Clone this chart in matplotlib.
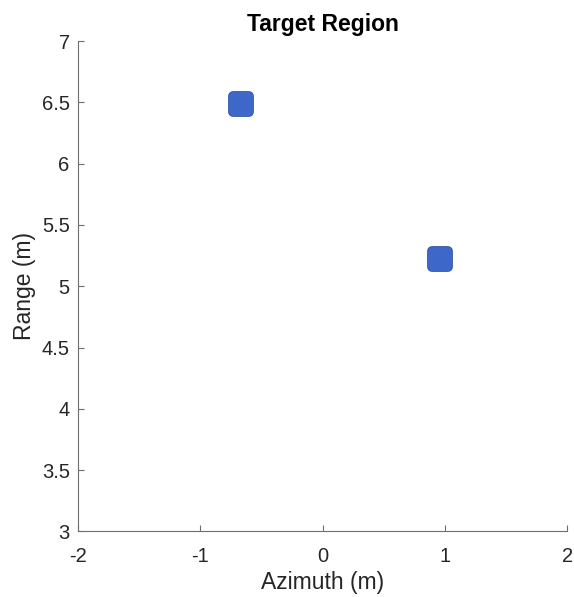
import matplotlib.pyplot as plt
from matplotlib.markers import MarkerStyle

# Target positions
azimuth = [-0.67, 0.96]
range_m = [6.49, 5.22]

xticks = [-2, -1, 0, 1, 2]
yticks = [3, 3.5, 4, 4.5, 5, 5.5, 6, 6.5, 7]
ytick_labels = ["3", "3.5", "4", "4.5", "5", "5.5", "6", "6.5", "7"]

plt.rcParams["font.family"] = ["Liberation Sans", "DejaVu Sans"]
plt.rcParams["axes.unicode_minus"] = False

fig = plt.figure(figsize=(5.74, 5.97), dpi=100)
ax = fig.add_axes([0.136, 0.11, 0.852, 0.821])

sq = MarkerStyle("s", joinstyle="round")
# dark outline, then fill on top (thick round-joined edges give rounded corners)
ax.plot(azimuth, range_m, linestyle="none", marker=sq, markersize=12,
        markerfacecolor="#2c4f9e", markeredgecolor="#2c4f9e", markeredgewidth=7)
ax.plot(azimuth, range_m, linestyle="none", marker=sq, markersize=11.5,
        markerfacecolor="#3d68c9", markeredgecolor="#3d68c9", markeredgewidth=6)

ax.set_xlim(-2, 2)
ax.set_ylim(3, 7)
ax.set_xticks(xticks)
ax.set_yticks(yticks)
ax.set_yticklabels(ytick_labels)

for side in ["top", "right"]:
    ax.spines[side].set_visible(False)
for side in ["left", "bottom"]:
    ax.spines[side].set_color("#6e6e6e")
    ax.spines[side].set_linewidth(0.8)

ax.tick_params(direction="in", length=4, width=0.8, color="#6e6e6e",
               labelsize=14.5, labelcolor="#262626")
ax.tick_params(axis="y", pad=6)
ax.tick_params(axis="x", pad=11)

ax.set_xlabel("Azimuth (m)", fontsize=16.5, color="#262626", labelpad=4)
ax.set_ylabel("Range (m)", fontsize=16.5, color="#262626", labelpad=4)
ax.set_title("Target Region", fontsize=16.5, fontweight="bold", pad=7)

fig.savefig("out.png", dpi=100)
plt.close(fig)
